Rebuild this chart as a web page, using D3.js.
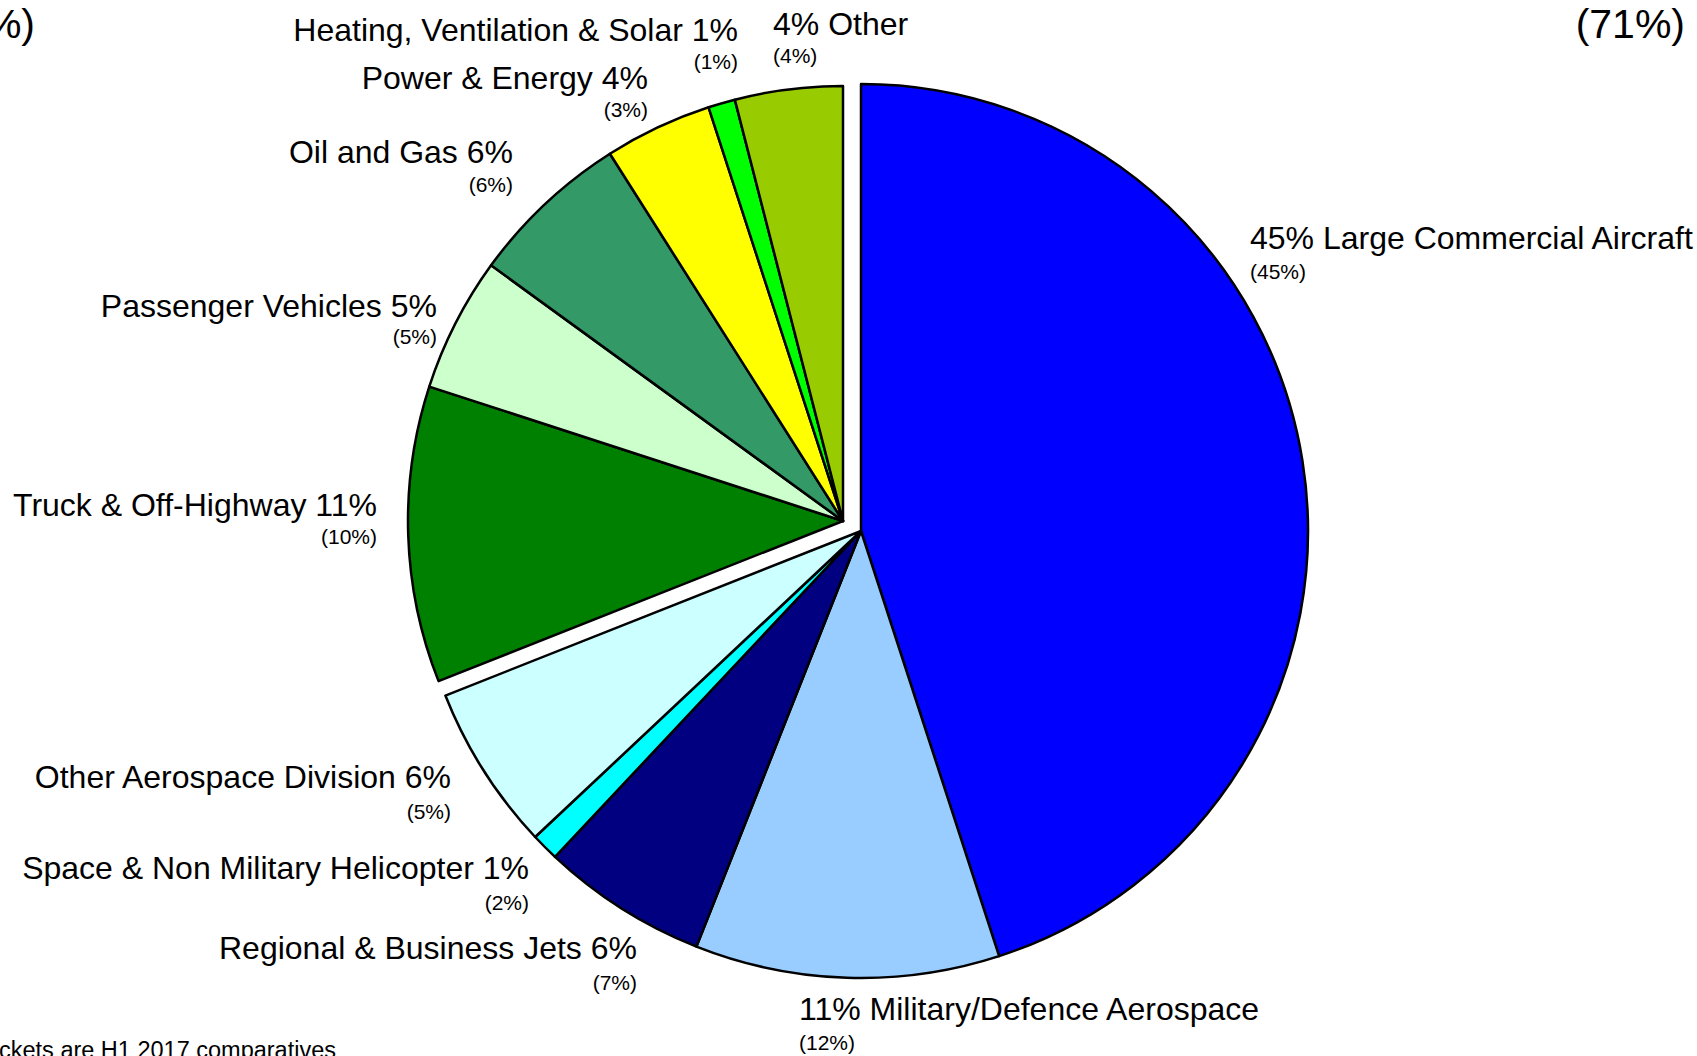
<!DOCTYPE html>
<html>
<head>
<meta charset="utf-8">
<script src="https://cdn.jsdelivr.net/npm/d3@7/dist/d3.min.js"></script>
<style>
  html, body { margin: 0; padding: 0; background: #fff; overflow: hidden; }
  svg { display: block; font-family: "Liberation Sans", Arial, sans-serif; }
</style>
</head>
<body>
<svg id="chart" width="1697" height="1056"></svg>
<script>
// H1 2018 revenue by market, brackets = H1 2017
const segments = ["Large Commercial Aircraft", "Military/Defence Aerospace", "Regional & Business Jets",
  "Space & Non Military Helicopter", "Other Aerospace Division", "Truck & Off-Highway",
  "Passenger Vehicles", "Oil and Gas", "Power & Energy", "Heating, Ventilation & Solar", "Other"];
const shares = [45, 11, 6, 1, 6, 11, 5, 6, 4, 1, 4];
const priorShares = [45, 12, 7, 2, 5, 10, 5, 6, 3, 1, 4];
const groupOf = ["aero", "aero", "aero", "aero", "aero", "other", "other", "other", "other", "other", "other"];
const colors = ["#0000FF", "#99CCFF", "#000080", "#00FFFF", "#CCFFFF", "#008000",
  "#CCFFCC", "#339966", "#FFFF00", "#00FF00", "#99CC00"];

// layout: each group of slices is drawn from its own centre
const groupGeo = {
  aero: { cx: 861, cy: 531, r: 447 },
  other: { cx: 843, cy: 521, r: 435 }
};

// label anchors: [x, baseline, anchor, percent first?]
const labelPos = [
  [1250, 249, "start", true],
  [799, 1020, "start", true],
  [637, 959, "end", false],
  [529, 879, "end", false],
  [451, 788, "end", false],
  [377, 516, "end", false],
  [437, 317, "end", false],
  [513, 163, "end", false],
  [648, 89, "end", false],
  [738, 41, "end", false],
  [773, 35, "start", true]
];
const subGap = [30, 30, 31, 31, 31, 28, 27, 29, 28, 28, 28];

const svg = d3.select("#chart");

const pie = d3.pie().sort(null).value(d => d).startAngle(0).endAngle(2 * Math.PI);
const arcs = pie(shares);

const slices = svg.append("g");
arcs.forEach((a, i) => {
  const g = groupGeo[groupOf[i]];
  const arc = d3.arc().innerRadius(0).outerRadius(g.r);
  slices.append("path")
    .attr("transform", `translate(${g.cx},${g.cy})`)
    .attr("d", arc(a))
    .attr("fill", colors[i])
    .attr("stroke", "#000")
    .attr("stroke-width", 2.5)
    .attr("stroke-linejoin", "round");
});

const labels = svg.append("g").attr("fill", "#000");
segments.forEach((name, i) => {
  const [x, y, anchor, pctFirst] = labelPos[i];
  labels.append("text")
    .attr("x", x).attr("y", y)
    .attr("text-anchor", anchor)
    .attr("font-size", 32)
    .text(pctFirst ? `${shares[i]}% ${name}` : `${name} ${shares[i]}%`);
  labels.append("text")
    .attr("x", x).attr("y", y + subGap[i])
    .attr("text-anchor", anchor)
    .attr("font-size", 21)
    .text(`(${priorShares[i]}%)`);
});

// group totals (prior period), partly cut off at the edges of the slide
const aeroTotal = d3.sum(priorShares.filter((v, i) => groupOf[i] === "aero"));
const otherTotal = d3.sum(priorShares.filter((v, i) => groupOf[i] === "other"));

svg.append("text").attr("x", 1685).attr("y", 38).attr("text-anchor", "end")
  .attr("font-size", 41).text(`(${aeroTotal}%)`);
svg.append("text").attr("x", 35).attr("y", 38).attr("text-anchor", "end")
  .attr("font-size", 41).text(`(${otherTotal}%)`);

svg.append("text").attr("x", 336).attr("y", 1058).attr("text-anchor", "end")
  .attr("font-size", 23.5).text("Figures in brackets are H1 2017 comparatives");
</script>
</body>
</html>
